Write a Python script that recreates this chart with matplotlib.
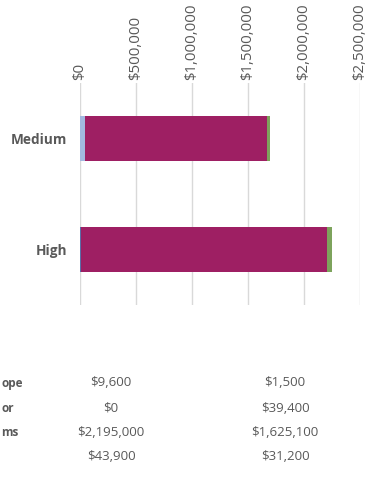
import matplotlib
matplotlib.use("Agg")
import matplotlib.pyplot as plt
from matplotlib.ticker import FuncFormatter

plt.rcParams['font.family'] = ['Open Sans', 'DejaVu Sans']

# Data
categories = ["High", "Medium"]
series_labels = ["ope", "or", "ms", ""]
series_values = [
    [9600, 1500],
    [0, 39400],
    [2195000, 1625100],
    [43900, 31200],
]
series_colors = ["#5A6EA8", "#A3B8E0", "#9E1F63", "#7DA35C"]
x_ticks = [0, 500000, 1000000, 1500000, 2000000, 2500000]

W, H = 371, 487
fig = plt.figure(figsize=(W / 100, H / 100), dpi=100)

# axes placement (pixels)
x0, x1 = 80, 360
y_top, y_bot = 83, 305
ax = fig.add_axes([x0 / W, 1 - y_bot / H, (x1 - x0) / W, (y_bot - y_top) / H])

ypos = list(range(len(categories)))
left = [0] * len(categories)
for vals, col in zip(series_values, series_colors):
    ax.barh(ypos, vals, left=left, height=0.41, color=col, edgecolor='none', zorder=3)
    left = [l + v for l, v in zip(left, vals)]

ax.set_xlim(0, 2500000)
ax.set_ylim(-0.5, 1.5)
ax.set_xticks(x_ticks)
ax.xaxis.set_major_formatter(FuncFormatter(lambda v, p: "${:,.0f}".format(v)))
ax.xaxis.tick_top()
ax.tick_params(axis='x', length=0, pad=2, labelsize=10.8, labelcolor='#595959', labelrotation=90)
ax.set_yticks(ypos)
ax.set_yticklabels(categories, fontweight='bold', fontsize=9.8, color='#595959')
ax.tick_params(axis='y', length=0, pad=9.4)
ax.grid(axis='x', color='#D9D9D9', linewidth=1, zorder=0)
for s in ax.spines.values():
    s.set_visible(False)

# data table below (cropped at left in the reference)
row_y = [383, 408, 432.5, 457]
col_x = [111, 285]
for i, (lab, vals) in enumerate(zip(series_labels, series_values)):
    fy = 1 - row_y[i] / H
    fig.text(1 / W, fy, lab, ha='left', va='center', fontsize=8.5,
             fontweight='bold', color='#595959')
    for j, v in enumerate(vals):
        fig.text(col_x[j] / W, fy, "${:,.0f}".format(v), ha='center', va='center',
                 fontsize=9.5, color='#595959')

fig.savefig("out.png", dpi=100)
